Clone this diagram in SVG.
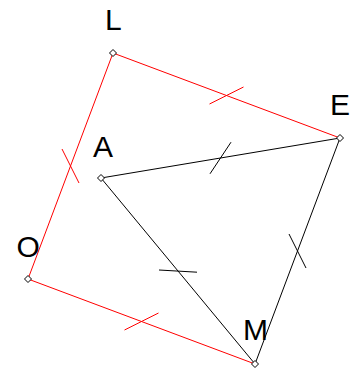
<svg xmlns="http://www.w3.org/2000/svg" width="356" height="371" viewBox="0 0 356 371">
<style>
.red{stroke:#ff0000;stroke-width:1;fill:none}
.blk{stroke:#000;stroke-width:1;fill:none}
.pt{fill:#fff;stroke:#000;stroke-width:1}
.lbl{font-family:"Liberation Sans",Arial,sans-serif;font-size:30px;fill:#000}
</style>
<defs>
<path id="dia" d="M0,-3.5 L3.5,0 L0,3.5 L-3.5,0 Z"/>
</defs>
<g id="connectors">
<line class="red" x1="113" y1="53" x2="340" y2="138"/>
<line class="red" x1="113" y1="53" x2="28" y2="279"/>
<line class="red" x1="28" y1="279" x2="255" y2="364"/>
<line class="blk" x1="101" y1="178" x2="340" y2="138"/>
<line class="blk" x1="101" y1="178" x2="255" y2="364"/>
<line class="blk" x1="340" y1="138" x2="255" y2="364"/>
<line class="red" x1="209.5" y1="104" x2="243.5" y2="87"/>
<line class="red" x1="62" y1="149" x2="79" y2="183"/>
<line class="red" x1="124.5" y1="330" x2="158.5" y2="313"/>
<line class="blk" x1="210" y1="173.8" x2="231" y2="142.2"/>
<line class="blk" x1="289" y1="234" x2="306" y2="268"/>
<line class="blk" x1="159" y1="270" x2="197" y2="272.2"/>
</g>
<g id="L"><use href="#dia" class="pt" x="113" y="53"/><text class="lbl" x="105" y="30">L</text></g>
<g id="E"><use href="#dia" class="pt" x="340" y="138"/><text class="lbl" x="330" y="115">E</text></g>
<g id="A"><use href="#dia" class="pt" x="101" y="178"/><text class="lbl" x="93" y="157">A</text></g>
<g id="O"><use href="#dia" class="pt" x="28" y="279"/><text class="lbl" x="16.5" y="257">O</text></g>
<g id="M"><use href="#dia" class="pt" x="255" y="364"/><text class="lbl" x="243" y="340">M</text></g>
</svg>
